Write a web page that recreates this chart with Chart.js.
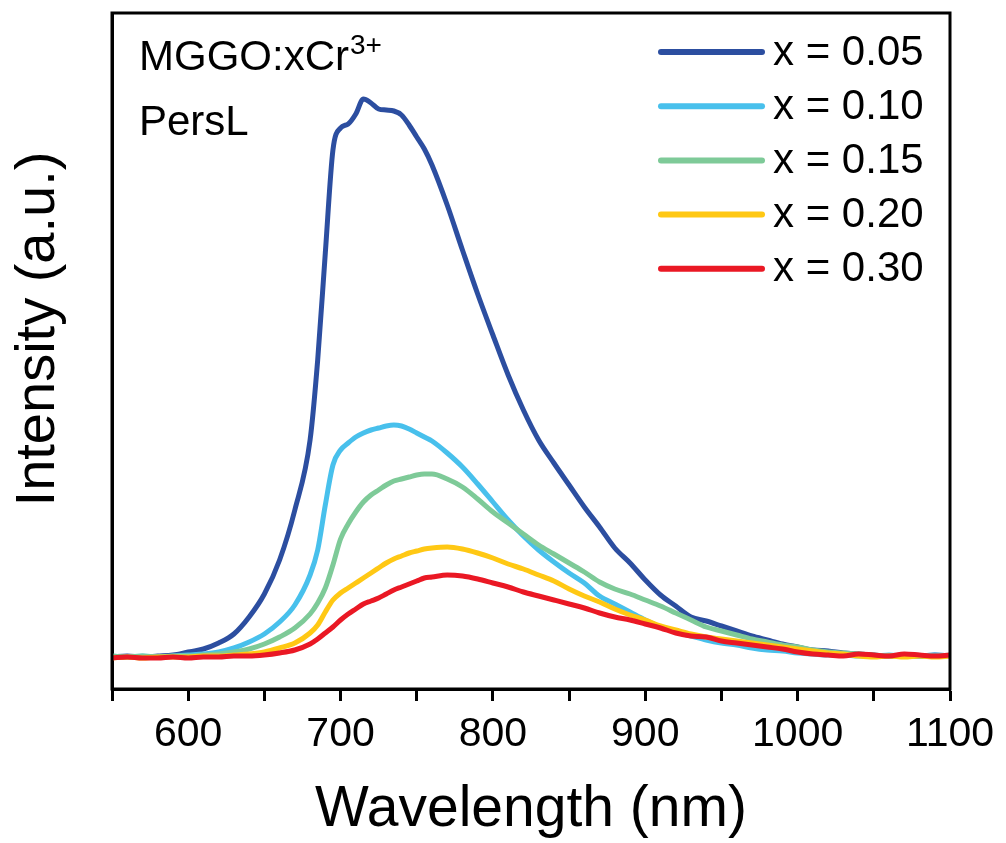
<!DOCTYPE html>
<html>
<head>
<meta charset="utf-8">
<script src="https://cdn.jsdelivr.net/npm/chart.js@4.4.1/dist/chart.umd.min.js"></script>
<style>
  html, body { margin: 0; padding: 0; background: #fff; }
  #wrap { width: 1006px; height: 843px; }
</style>
</head>
<body>
<div id="wrap"><canvas id="chartPersL" width="1006" height="843"></canvas></div>
<script>
'use strict';

// wavelengths (nm), finer steps around the steep rise
var wavelength = [550,560,570,580,590,600,610,620,630,640,650,660,670,680,
  685,690,695,700,705,710,715,720,725,730,735,740,745,750,755,760,
  770,780,790,800,810,820,830,840,850,860,870,880,890,900,910,920,930,940,950,
  960,970,980,990,1000,1010,1020,1030,1040,1050,1060,1070,1080,1090,1100];

// intensity (a.u.)
var x005 = [32,33,32,33,34,37,40,46,55,72,95,129,179,249,
  329,436,539,561,565,575,590,586,580,579,578,574,564,552,540,524,
  484,439,395,354,314,279,249,226,204,182,162,141,126,109,94,83,72,68,63,
  58,53,49,45,42,39,38,36,35,34,33,34,33,34,33];
var x010 = [33,32,33,32,33,34,35,37,41,47,55,67,84,114,
  139,184,224,239,246,252,256,259,261,263,264,263,260,256,252,248,
  236,222,205,187,169,153,139,127,116,106,93,85,77,69,62,57,53,49,46,
  44,41,39,38,36,35,34,34,33,33,34,33,33,34,33];
var x015 = [33,32,33,32,33,33,34,35,37,40,45,52,61,75,
  86,101,124,150,165,177,187,194,199,204,208,210,212,214,215,215,
  210,202,190,177,166,155,144,135,126,117,107,100,95,89,83,76,69,62,58,
  54,50,47,44,42,39,37,36,35,34,33,34,33,33,34];
var x020 = [31,32,31,32,32,32,33,33,34,35,37,41,46,56,
  64,77,89,96,101,106,111,116,121,126,130,133,136,138,140,141,
  142,140,136,131,125,120,114,108,100,93,87,80,74,69,63,59,55,52,50,
  48,46,44,42,40,38,36,35,33,32,33,32,33,32,33];
var x030 = [31,32,31,31,32,31,32,32,33,33,34,36,39,45,
  50,56,62,69,75,80,85,88,91,95,99,102,105,108,111,112,
  114,113,110,106,102,97,93,89,85,81,76,72,69,65,61,56,53,52,48,
  46,44,42,40,37,35,34,33,35,34,33,35,34,33,34];

var seriesLabels = ['x = 0.05','x = 0.10','x = 0.15','x = 0.20','x = 0.30'];
var seriesColors = ['rgb(44,78,160)','rgb(72,192,236)','rgb(126,202,152)','rgb(255,200,20)','rgb(234,24,36)'];
var seriesValues = [x005, x010, x015, x020, x030];
var xTickMin = 550, xTickMax = 1100, xTickStep = 50;

var FONT = "'Liberation Sans', Arial, sans-serif";

// frame, legend, y title and the sample label
var decorations = {
    id: 'decorations',
    afterDatasetsDraw: function(chart){
        var a = chart.chartArea, ctx = chart.ctx;
        ctx.save();
        ctx.strokeStyle = '#000';
        ctx.lineWidth = 3;
        ctx.strokeRect(a.left, a.top, a.right - a.left, a.bottom - a.top);
        ctx.restore();
    },
    afterDraw: function(chart){
        var ctx = chart.ctx, a = chart.chartArea;
        ctx.save();
        ctx.fillStyle = '#000';
        ctx.textBaseline = 'middle';
        ctx.font = '42px ' + FONT;
        for (var i = 0; i < seriesLabels.length; i++) {
            var y = a.top + 39 + i * 54.2;
            ctx.strokeStyle = seriesColors[i];
            ctx.lineWidth = 6;
            ctx.lineCap = 'round';
            ctx.beginPath();
            ctx.moveTo(a.left + 549, y);
            ctx.lineTo(a.left + 650, y);
            ctx.stroke();
            ctx.fillText(seriesLabels[i], a.left + 661, y + 1);
        }
        ctx.textBaseline = 'alphabetic';
        ctx.font = '42px ' + FONT;
        var t = 'MGGO:xCr';
        ctx.fillText(t, a.left + 27, a.top + 57);
        var w = ctx.measureText(t).width;
        ctx.font = '28px ' + FONT;
        ctx.fillText('3+', a.left + 27 + w + 1, a.top + 41);
        ctx.font = '42px ' + FONT;
        ctx.fillText('PersL', a.left + 27, a.top + 122);

        // y axis title
        ctx.translate(54, 329);
        ctx.rotate(-Math.PI / 2);
        ctx.textAlign = 'center';
        ctx.font = '56px ' + FONT;
        ctx.fillText('Intensity (a.u.)', 0, 0);
        ctx.restore();
    }
};

var datasets = [];
for (var i = 0; i < seriesValues.length; i++) {
    datasets.push({
        label: seriesLabels[i],
        data: wavelength.map(function(w, k){ return {x: w, y: seriesValues[i][k]}; }),
        borderColor: seriesColors[i],
        borderWidth: 5,
        pointRadius: 0,
        fill: false,
        cubicInterpolationMode: 'monotone',
        order: seriesValues.length - 1 - i
    });
}

var chart = new Chart(document.getElementById('chartPersL').getContext('2d'), {
    type: 'line',
    data: { datasets: datasets },
    plugins: [decorations],
    options: {
        responsive: false,
        animation: false,
        layout: { padding: { top: 13, right: 56, left: 0, bottom: 0 } },
        plugins: { legend: { display: false }, tooltip: { enabled: false } },
        scales: {
            x: {
                type: 'linear',
                min: xTickMin,
                max: xTickMax,
                afterFit: function(s){ s.height = 154; },
                ticks: {
                    stepSize: xTickStep,
                    autoSkip: false,
                    maxRotation: 0,
                    padding: 9,
                    color: '#000',
                    font: { size: 41, family: FONT },
                    callback: function(v){ return v % 100 === 0 ? String(v) : ''; }
                },
                grid: { drawOnChartArea: false, tickLength: 12, tickWidth: 3, tickColor: '#000' },
                border: { color: '#000', width: 3 },
                title: {
                    display: true,
                    text: 'Wavelength (nm)',
                    color: '#000',
                    font: { size: 57, family: FONT, lineHeight: 1 },
                    padding: { top: 0, bottom: 4 }
                }
            },
            y: {
                min: 0,
                max: 676,
                afterFit: function(s){ s.width = 112; },
                ticks: { display: false },
                grid: { display: false, drawTicks: false },
                border: { color: '#000', width: 3 }
            }
        }
    }
});
</script>
</body>
</html>
